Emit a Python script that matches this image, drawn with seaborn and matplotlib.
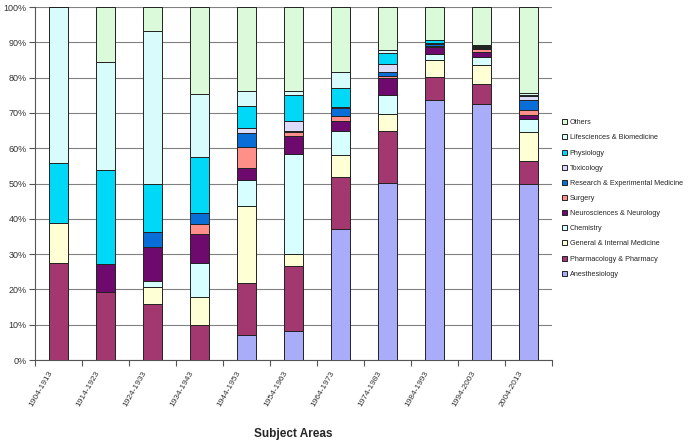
import numpy as np
import pandas as pd
import matplotlib
matplotlib.use("Agg")
import matplotlib.pyplot as plt
import matplotlib.transforms as mtransforms
import seaborn as sns

periods = ["1904-1913", "1914-1923", "1924-1933", "1934-1943", "1944-1953", "1954-1963",
           "1964-1973", "1974-1983", "1984-1993", "1994-2003", "2004-2013"]

# shares (%) per subject area, bottom of the stack first
anesthesiology = [0, 0, 0, 0, 7.0, 8.1, 37.0, 50.2, 73.6, 72.6, 50.0]
pharmacology = [27.6, 19.2, 16.0, 9.9, 14.7, 18.5, 14.9, 14.7, 6.6, 5.7, 6.4]
general_internal = [11.1, 0, 4.6, 7.9, 22.0, 3.4, 6.2, 4.8, 4.9, 5.3, 8.2]
chemistry = [0, 0, 1.9, 9.8, 7.2, 28.3, 6.9, 5.4, 1.7, 2.2, 3.7]
neurosciences = [0, 7.9, 9.4, 8.0, 3.6, 5.3, 2.6, 4.7, 1.9, 1.5, 1.0]
surgery = [0, 0, 0, 3.0, 5.9, 1.0, 1.5, 0.6, 0.2, 0.7, 1.6]
research_exp = [0, 0, 4.5, 3.0, 3.9, 0.2, 2.4, 1.2, 0.7, 0.3, 2.8]
toxicology = [0, 0, 0, 0, 1.5, 2.9, 0.2, 2.2, 0.3, 0.3, 1.2]
physiology = [17.0, 26.8, 13.6, 15.9, 6.3, 7.3, 5.5, 3.2, 0.9, 0.3, 0.3]
lifesciences = [44.3, 30.6, 43.2, 17.8, 4.2, 1.2, 4.4, 0.9, 0.0, 0.4, 0.6]
others = [0, 15.5, 6.8, 24.7, 23.7, 23.8, 18.4, 12.1, 9.2, 10.7, 24.2]

series = [
    ("Anesthesiology", anesthesiology, "#A9ADF9"),
    ("Pharmacology & Pharmacy", pharmacology, "#A3376F"),
    ("General & Internal Medicine", general_internal, "#FFFFD6"),
    ("Chemistry", chemistry, "#D8FFFF"),
    ("Neurosciences & Neurology", neurosciences, "#6E0A6E"),
    ("Surgery", surgery, "#FF8F88"),
    ("Research & Experimental Medicine", research_exp, "#0A6ED8"),
    ("Toxicology", toxicology, "#DCDCFA"),
    ("Physiology", physiology, "#00D8F8"),
    ("Lifesciences & Biomedicine", lifesciences, "#D8FCFC"),
    ("Others", others, "#DAFADA"),
]

sns.set_style("white")
plt.rcParams['font.family'] = ['Liberation Sans', 'DejaVu Sans']

fig = plt.figure(figsize=(6.89, 4.44), dpi=100)
ax = fig.add_axes([0.0508, 0.189, 0.75, 0.795])

bottom = np.zeros(len(periods))
for name, vals, col in series:
    df = pd.DataFrame({"period": periods, "share": vals})
    sns.barplot(data=df, x="period", y="share", order=periods, bottom=bottom,
                color=col, saturation=1, width=0.4, errorbar=None,
                edgecolor="#222222", linewidth=0.7, label=name, ax=ax, zorder=3)
    bottom = bottom + np.array(vals)

handles, labels = ax.get_legend_handles_labels()
if ax.get_legend() is not None:
    ax.get_legend().remove()

ax.set_xlim(-0.5, len(periods) - 0.5)
ax.set_ylim(0, 100)
ax.set_yticks(np.arange(0, 101, 10))
ax.set_yticklabels([f"{v}%" for v in range(0, 101, 10)], fontsize=6.5, color="#333333")
ax.yaxis.grid(True, color="#808080", linewidth=0.8, zorder=0)
ax.set_axisbelow(True)
for s in ["top", "right"]:
    ax.spines[s].set_visible(False)
for s in ["left", "bottom"]:
    ax.spines[s].set_color("#555555")
    ax.spines[s].set_linewidth(0.8)
ax.tick_params(axis="y", which="major", direction="out", length=4, width=0.8,
               color="#555555", left=True, pad=2)

# category labels, tick marks sit between categories
ax.set_xticks(np.arange(len(periods)))
ax.set_xticklabels(periods, rotation=60, ha="right", rotation_mode="anchor",
                   fontsize=6, color="#333333")
ax.tick_params(axis="x", which="major", length=0, pad=7)
shift = mtransforms.ScaledTranslation(-10 / 100, 0, fig.dpi_scale_trans)
for lbl in ax.get_xticklabels():
    lbl.set_transform(lbl.get_transform() + shift)
ax.set_xticks(np.arange(-0.5, len(periods)), minor=True)
ax.tick_params(axis="x", which="minor", direction="out", length=4, width=0.8,
               color="#555555", bottom=True)

ax.set_xlabel("Subject Areas", fontsize=8.5, fontweight="bold", labelpad=14)
ax.set_ylabel("")

leg = fig.legend(handles[::-1], labels[::-1], loc="upper left",
                 bbox_to_anchor=(0.812, 0.738), frameon=False, fontsize=5.2,
                 handlelength=0.7, handleheight=0.7, handletextpad=0.3,
                 labelspacing=1.12, borderaxespad=0)

plt.savefig("out.png", dpi=100)
